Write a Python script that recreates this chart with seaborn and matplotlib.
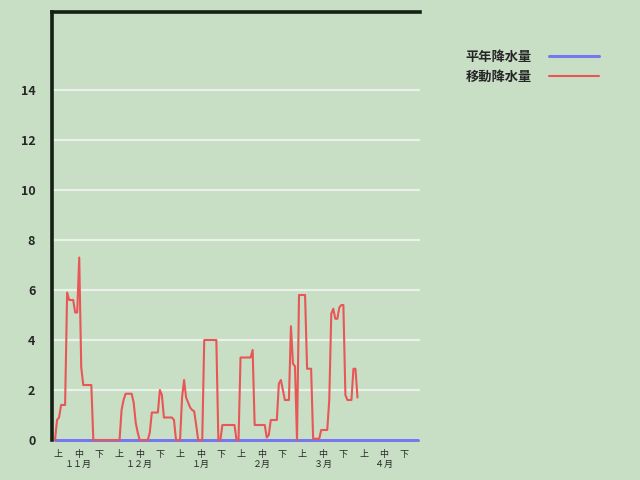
import numpy as np
import pandas as pd
import seaborn as sns
import matplotlib.pyplot as plt

# 11月1日からの日ごとの値
idou = [0, 0.8, 0.9, 1.4, 1.4, 1.4, 5.9, 5.6, 5.6, 5.6,
        5.1, 5.1, 7.3, 2.9, 2.2, 2.2, 2.2, 2.2, 2.2, 0,
        0, 0, 0, 0, 0, 0, 0, 0, 0, 0,
        0, 0, 0, 1.2, 1.6, 1.85, 1.85, 1.85, 1.85, 1.5,
        0.7, 0.3, 0, 0, 0, 0, 0, 0.3, 1.1, 1.1,
        1.1, 1.1, 2.0, 1.8, 0.9, 0.9, 0.9, 0.9, 0.9, 0.8,
        0, 0, 0, 1.7, 2.4, 1.7, 1.5, 1.3, 1.2, 1.15,
        0.6, 0, 0, 0, 4.0, 4.0, 4.0, 4.0, 4.0, 4.0,
        4.0, 0, 0, 0.6, 0.6, 0.6, 0.6, 0.6, 0.6, 0.6,
        0, 0, 3.3, 3.3, 3.3, 3.3, 3.3, 3.3, 3.6, 0.6,
        0.6, 0.6, 0.6, 0.6, 0.6, 0.1, 0.2, 0.8, 0.8, 0.8,
        0.8, 2.25, 2.4, 2.0, 1.6, 1.6, 1.6, 4.55, 3.05, 2.95,
        0, 5.8, 5.8, 5.8, 5.8, 2.85, 2.85, 2.85, 0.05, 0.05,
        0.05, 0.05, 0.4, 0.4, 0.4, 0.4, 1.6, 5.05, 5.25, 4.85,
        4.85, 5.3, 5.4, 5.4, 1.8, 1.6, 1.6, 1.6, 2.85, 2.85,
        1.7]
heinen = [0] * 181

months = ["１１月", "１２月", "１月", "２月", "３月", "４月"]
junn = ["上", "中", "下"]
yticks = [0, 2, 4, 6, 8, 10, 12, 14]

bg = "#c8dfc6"

sns.set_theme(style="white", rc={"axes.facecolor": bg, "figure.facecolor": bg})
plt.rcParams["font.family"] = ["Noto Sans CJK JP", "DejaVu Sans"]

fig = plt.figure(figsize=(6.4, 4.8), dpi=100)
ax = fig.add_axes([52 / 640, 40 / 480, 368 / 640, 428 / 480])

df_h = pd.DataFrame({"day": np.arange(len(heinen)), "val": heinen})
df_i = pd.DataFrame({"day": np.arange(len(idou)), "val": idou})

for y in yticks:
    ax.axhline(y, color="#e9f1e8", lw=1.6, zorder=1)

sns.lineplot(data=df_h, x="day", y="val", ax=ax, color="#7878ee", lw=2.2,
             label="平年降水量", clip_on=False, zorder=3)
sns.lineplot(data=df_i, x="day", y="val", ax=ax, color="#e85656", lw=1.5,
             label="移動降水量", clip_on=False, zorder=4)

ax.set_xlim(-1.5, 181)
ax.set_ylim(0, 17.12)
ax.set_xlabel("")
ax.set_ylabel("")

ax.set_yticks(yticks)
ax.set_yticklabels([str(v) for v in yticks], fontsize=9, fontweight="bold")

pos = 1.5 + np.arange(18) * 10.1
labels = []
for m in months:
    for j in junn:
        labels.append(j + "\n" + m if j == "中" else j)
ax.set_xticks(pos)
ax.set_xticklabels(labels, fontsize=6.5, linespacing=1.15)
ax.tick_params(axis="both", length=0)
ax.tick_params(axis="x", pad=7)
ax.tick_params(axis="y", pad=12)

for s in ["right", "bottom"]:
    ax.spines[s].set_visible(False)
for s in ["left", "top"]:
    ax.spines[s].set_color("#152015")
    ax.spines[s].set_linewidth(2.6)

leg = ax.legend(loc="upper left", bbox_to_anchor=(454 / 640, 1 - 38 / 480),
                bbox_transform=fig.transFigure, frameon=False, markerfirst=False,
                handlelength=3.8, handletextpad=1.3, labelspacing=0.45,
                prop={"size": 9.5, "weight": "bold"})

plt.savefig("out.png", dpi=100, facecolor=bg)
plt.close()
